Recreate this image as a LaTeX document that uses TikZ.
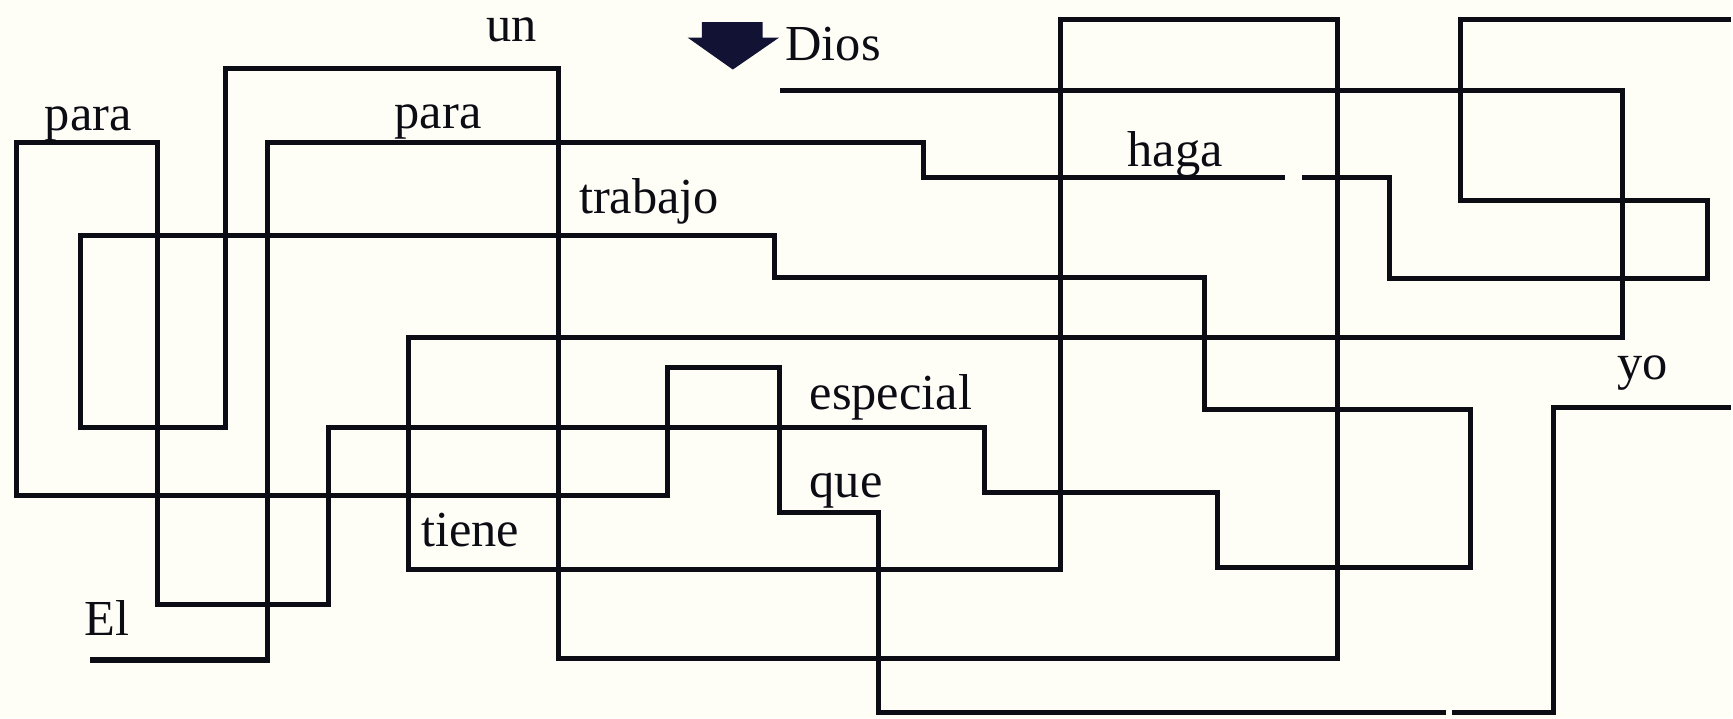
\documentclass[tikz,border=0pt]{standalone}
\usepackage{fontspec}
\setmainfont{Liberation Serif}
\definecolor{paper}{RGB}{255,254,246}
\definecolor{ink}{RGB}{12,12,20}
\definecolor{arrowink}{RGB}{18,18,52}

\begin{document}
\begin{tikzpicture}[x=0.1mm, y=-0.1mm,
    wire/.style={ink, line width=1.3pt, line join=miter},
    word/.style={inner sep=0pt, anchor=base west, text=ink, font=\fontsize{13}{15}\selectfont}]
    \fill[paper] (0,0) rectangle (1568,651);

    \node[word] (el) at (76,576) {El};
    \node[word] (para1) at (40,118) {para};
    \node[word] (un) at (440,38) {un};
    \node[word] (para2) at (357,116) {para};
    \node[word] (trabajo) at (524,193) {trabajo};
    \node[word] (dios) at (711,55) {Dios};
    \node[word] (haga) at (1021,151) {haga};
    \node[word] (especial) at (733,371) {especial};
    \node[word] (que) at (733,451) {que};
    \node[word] (tiene) at (381,495) {tiene};
    \node[word] (yo) at (1465,344) {yo};

    \fill[arrowink] (636,20) -- (691,20) -- (691,34) -- (706,34) -- (664,63) -- (623,34) -- (636,34) -- cycle;

    \coordinate (elstart) at (82,598);
    \coordinate (topend) at (1568,18);
    \coordinate (yostart) at (1568,369);
    \coordinate (diosend) at (707,82);

    % El
    \draw[wire] (elstart) -- (242,598) -- (242,129) -- (837,129) -- (837,161) -- (1164,161);
    \draw[wire] (1180,161) -- (1259,161) -- (1259,252) -- (1547,252) -- (1547,182) -- (1323,182) -- (1323,18) -- (topend);

    % yo
    \draw[wire] (yostart) -- (1408,369) -- (1408,646) -- (1316,646);
    \draw[wire] (1310,646) -- (796,646) -- (796,464) -- (706,464) -- (706,333) -- (605,333) -- (605,449)
        -- (15,449) -- (15,129) -- (143,129) -- (143,548) -- (298,548) -- (298,387) -- (892,387) -- (892,446)
        -- (1103,446) -- (1103,514) -- (1332,514) -- (1332,371) -- (1091,371) -- (1091,251) -- (702,251)
        -- (702,213) -- (73,213) -- (73,387) -- (204,387) -- (204,62) -- (506,62) -- (506,597) -- (1212,597)
        -- (1212,18) -- (961,18) -- (961,516) -- (370,516) -- (370,306) -- (1470,306) -- (1470,82) -- (diosend);
\end{tikzpicture}
\end{document}
